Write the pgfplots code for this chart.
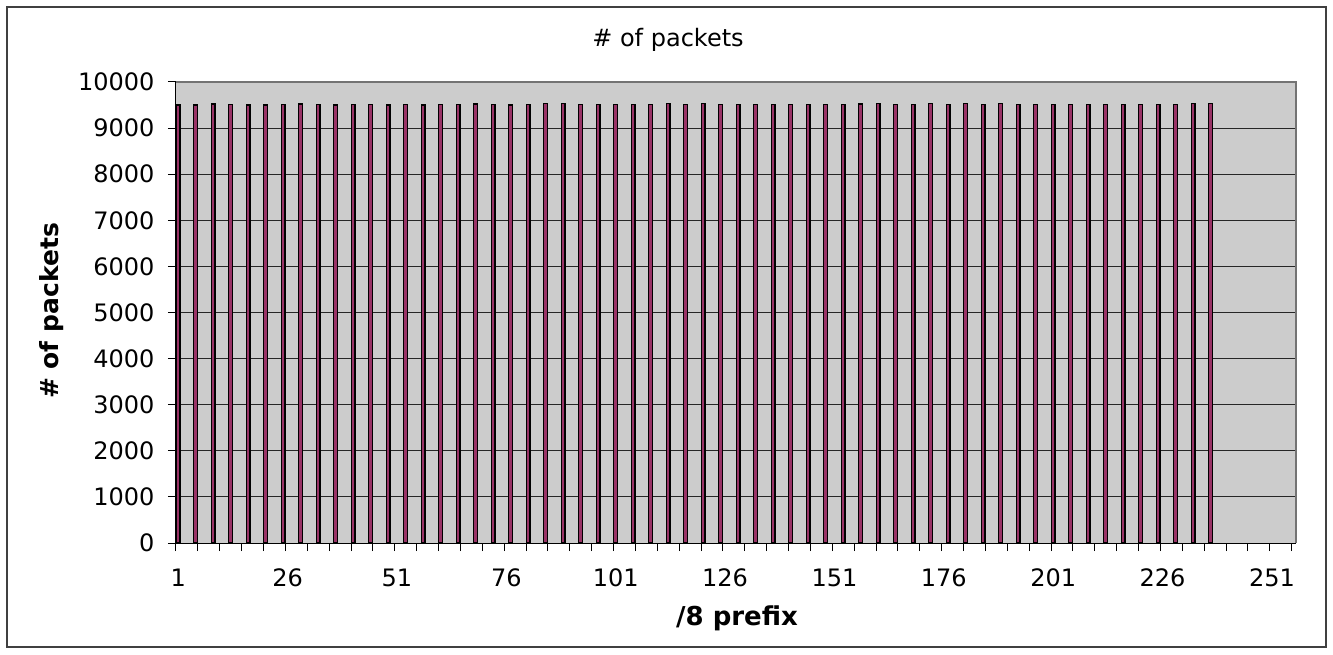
\documentclass[border=0pt]{standalone}
\usepackage{pgfplots}
\pgfplotsset{compat=1.18}
\usepackage{fontspec}
\setmainfont{DejaVu Sans}
\definecolor{plotbg}{HTML}{CCCCCC}
\definecolor{barfill}{HTML}{993366}
\definecolor{framec}{HTML}{404040}
\begin{document}
\begin{tikzpicture}
\useasboundingbox (-176pt,-111pt) rectangle (1157pt,543pt);
\draw[line width=2pt, draw=framec] (-169pt,-104pt) rectangle (1150pt,536pt);
\begin{axis}[
  at={(0pt,0pt)}, anchor=south west,
  scale only axis,
  width=1120pt, height=461pt,
  xmin=0.5, xmax=256.5,
  ymin=0, ymax=10000,
  axis line style={draw=none},
  axis background/.style={fill=plotbg},
  ytick={0,1000,...,10000},
  scaled y ticks=false,
  yticklabel={\pgfmathprintnumber[fixed,precision=0,1000 sep={}]{\tick}},
  xtick={0.5,5.5,...,255.5},
  xticklabels={},
  extra x ticks={1,26,51,76,101,126,151,176,201,226,251},
  extra x tick labels={1,26,51,76,101,126,151,176,201,226,251},
  extra x tick style={major tick length=0pt, xticklabel style={yshift=-22pt}},
  tick align=outside,
  major tick length=8pt,
  tick style={black, line width=1pt},
  xtick pos=bottom, ytick pos=left,
  ymajorgrids,
  grid style={black!85, line width=1pt},
  /pgf/number format/1000 sep={},
  /pgf/number format/assume math mode=true,
  ticklabel style={font=\fontsize{24}{28}\selectfont, text=black},
  yticklabel style={xshift=-10pt},
  clip=false,
]
\addplot[ybar, bar width=3.8pt, fill=barfill, draw=black, line width=1.3pt] coordinates {
(1,9500) (5,9500) (9,9520) (13,9510) (17,9500) (21,9500) (25,9510) (29,9520) (33,9510) (37,9500)
(41,9510) (45,9510) (49,9500) (53,9510) (57,9500) (61,9510) (65,9510) (69,9520) (73,9510) (77,9500)
(81,9510) (85,9530) (89,9530) (93,9510) (97,9510) (101,9510) (105,9510) (109,9510) (113,9530) (117,9510)
(121,9530) (125,9510) (129,9510) (133,9510) (137,9510) (141,9510) (145,9510) (149,9510) (153,9510) (157,9520)
(161,9530) (165,9510) (169,9510) (173,9530) (177,9510) (181,9530) (185,9510) (189,9530) (193,9510) (197,9510)
(201,9510) (205,9510) (209,9510) (213,9510) (217,9510) (221,9510) (225,9510) (229,9510) (233,9530) (237,9530)
};
\draw[black!55, line width=1.5pt] (rel axis cs:0,1) -- (rel axis cs:1,1) -- (rel axis cs:1,0);
\draw[black, line width=1pt] (rel axis cs:0,1) -- (rel axis cs:0,0) -- (rel axis cs:1,0);
\end{axis}
\node[font=\fontsize{24}{28}\selectfont] at (492pt,503pt) {\# of packets};
\node[font=\fontsize{25}{29}\selectfont\bfseries, rotate=90] at (-124pt,232pt) {\# of packets};
\node[font=\fontsize{26}{30}\selectfont\bfseries] at (561pt,-75pt) {/8 prefix};
\end{tikzpicture}
\end{document}
